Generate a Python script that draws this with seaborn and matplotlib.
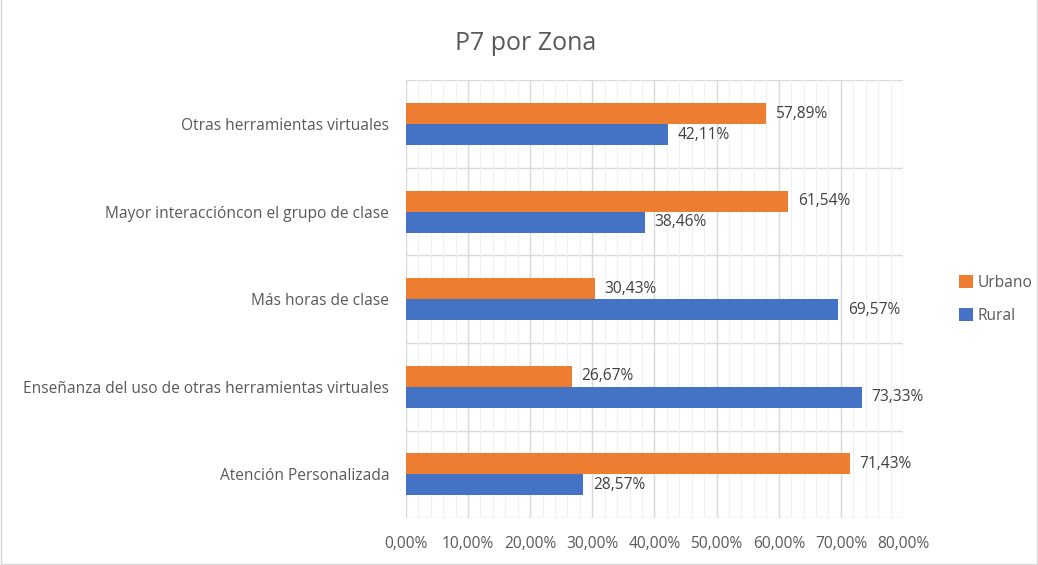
"""
P7 por Zona - horizontal grouped bar chart.
"""

import numpy as np
import pandas as pd
import matplotlib
matplotlib.use('Agg')
import matplotlib.pyplot as plt
from matplotlib.ticker import FuncFormatter, MultipleLocator
import seaborn as sns

# Data
categories = [
    'Otras herramientas virtuales',
    'Mayor interaccióncon el grupo de clase',
    'Más horas de clase',
    'Enseñanza del uso de otras herramientas virtuales',
    'Atención Personalizada',
]
urbano = [0.5789, 0.6154, 0.3043, 0.2667, 0.7143]
rural = [0.4211, 0.3846, 0.6957, 0.7333, 0.2857]
zones = ['Urbano', 'Rural']
colors = {'Urbano': '#ED7D31', 'Rural': '#4472C4'}

df = pd.DataFrame({
    'Categoria': categories * 2,
    'Zona': ['Urbano'] * len(categories) + ['Rural'] * len(categories),
    'Valor': urbano + rural,
})

sns.set_style('white')
plt.rcParams['font.family'] = ['Open Sans', 'DejaVu Sans']
text_color = '#595959'
fs = 11.2

fig = plt.figure(figsize=(10.38, 5.65), dpi=100)
ax = fig.add_axes([0.391, 0.083, 0.479, 0.775])

sns.barplot(data=df, y='Categoria', x='Valor', hue='Zona', order=categories,
            hue_order=zones, palette=colors, saturation=1, orient='h',
            width=0.48, gap=0, linewidth=0, ax=ax, legend=True)

ax.set_xlim(0, 0.8)
ax.set_ylim(len(categories) - 0.5, -0.5)
ax.xaxis.set_major_locator(MultipleLocator(0.1))
ax.xaxis.set_minor_locator(MultipleLocator(0.02))
ax.xaxis.set_major_formatter(FuncFormatter(lambda v, _: f'{v*100:.2f}%'.replace('.', ',')))
ax.grid(which='major', axis='x', color='#d9d9d9', lw=1)
ax.grid(which='minor', axis='x', color='#f0f0f0', lw=0.8)
# horizontal lines between the categories
for b in np.arange(-0.5, len(categories), 1.0):
    ax.axhline(b, color='#d9d9d9', lw=1, zorder=0.5)
ax.set_axisbelow(True)
for s in ax.spines.values():
    s.set_visible(False)

ax.tick_params(axis='x', which='both', length=0, pad=13, labelsize=fs, labelcolor=text_color)
ax.tick_params(axis='y', length=0, pad=12, labelsize=fs, labelcolor=text_color)
ax.set_xlabel('')
ax.set_ylabel('')

# value labels
for cont in ax.containers:
    labels = [f'{b.get_width()*100:.2f}%'.replace('.', ',') for b in cont]
    ax.bar_label(cont, labels=labels, padding=7, fontsize=fs, color='#404040')

# legend on the right
handles, labs = ax.get_legend_handles_labels()
ax.legend(handles, labs, loc='center left', bbox_to_anchor=(1.085, 0.5),
          frameon=False, fontsize=fs, labelcolor=text_color,
          handlelength=0.9, handleheight=0.9, handletextpad=0.25,
          labelspacing=1.1)

fig.suptitle('P7 por Zona', x=0.506, y=0.945, fontsize=18, color=text_color)

# light frame round the chart
fig.patches.append(plt.Rectangle((0.001, 0.002), 0.998, 1.2, transform=fig.transFigure,
                                 fill=False, edgecolor='#d9d9d9', lw=1))

fig.savefig('out.png', dpi=100)
